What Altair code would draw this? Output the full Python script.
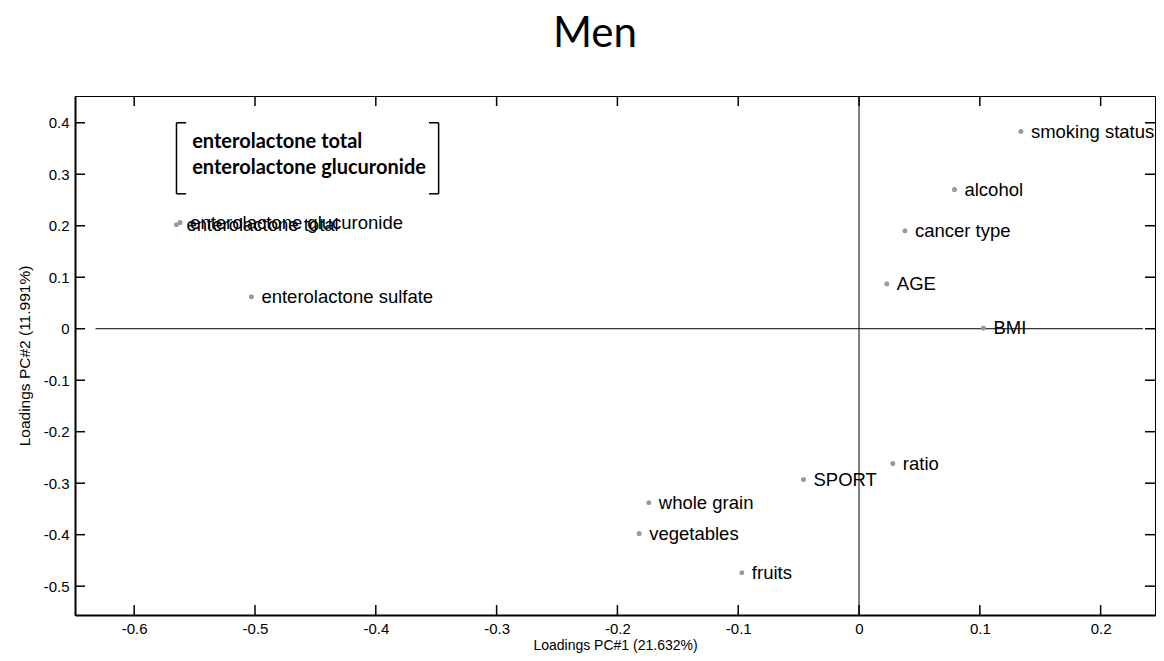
import altair as alt
import pandas as pd

# ---- data ----
labels = ["enterolactone total", "enterolactone glucuronide", "enterolactone sulfate",
          "smoking status", "alcohol", "cancer type", "AGE", "BMI", "ratio",
          "SPORT", "whole grain", "vegetables", "fruits"]
pc1 = [-0.565, -0.562, -0.503, 0.134, 0.079, 0.038, 0.023, 0.103, 0.028,
       -0.046, -0.174, -0.182, -0.097]
pc2 = [0.202, 0.206, 0.062, 0.383, 0.270, 0.190, 0.087, 0.001, -0.262,
       -0.293, -0.338, -0.398, -0.474]

x_ticks = [-0.6, -0.5, -0.4, -0.3, -0.2, -0.1, 0, 0.1, 0.2]
y_ticks = [-0.5, -0.4, -0.3, -0.2, -0.1, 0, 0.1, 0.2, 0.3, 0.4]
x_domain = [-0.649, 0.2450]
y_domain = [-0.556, 0.452]

note_lines = ["enterolactone total", "enterolactone glucuronide"]
note_x = [-0.552, -0.552]
note_y = [0.3515, 0.301]
bracket_x = [-0.565, -0.348]
bracket_y = [0.262, 0.400]
bracket_serif = 0.008
zero_line_x = [-0.632, 0.235]

W, H = 1080, 519
TICK = 10

xs = alt.Scale(domain=x_domain, nice=False, zero=False)
ys = alt.Scale(domain=y_domain, nice=False, zero=False)
lab_expr = "toString(datum.value)"
AX = alt.Axis(values=x_ticks, title="Loadings PC#1 (21.632%)", labelExpr=lab_expr,
              ticks=False, tickSize=0, labelPadding=6, titlePadding=2, grid=False,
              labelFontSize=15, titleFontSize=14,
              domainColor="black", domainWidth=2)
AY = alt.Axis(values=y_ticks, title="Loadings PC#2 (11.991%)", labelExpr=lab_expr,
              ticks=False, tickSize=0, labelPadding=6, titlePadding=11, grid=False,
              labelFontSize=15, titleFontSize=15.5,
              domainColor="black", domainWidth=2)


def X(f="x"):
    return alt.X(f"{f}:Q", scale=xs, axis=AX)


def Y(f="y"):
    return alt.Y(f"{f}:Q", scale=ys, axis=AY)


pts = pd.DataFrame({"x": pc1, "y": pc2, "label": labels})
xt = pd.DataFrame({"x": x_ticks})
yt = pd.DataFrame({"y": y_ticks})

points = alt.Chart(pts).mark_circle(size=22, color="#999999", opacity=1).encode(x=X(), y=Y())

text = alt.Chart(pts).mark_text(
    align="left", baseline="middle", dx=10, font="Liberation Sans",
    fontSize=18.5, color="black"
).encode(x=X(), y=Y(), text="label:N")

hzero = alt.Chart(pd.DataFrame({"x": [zero_line_x[0]], "x2": [zero_line_x[1]], "y": [0]})).mark_rule(
    color="black", strokeWidth=1
).encode(x=X(), x2="x2:Q", y=Y())

vzero = alt.Chart(pd.DataFrame({"x": [0]})).mark_rule(color="black", strokeWidth=1).encode(
    x=X(), y=alt.value(0), y2=alt.value(H))

tick_bot = alt.Chart(xt).mark_rule(color="black", strokeWidth=1.5).encode(
    x=X(), y=alt.value(H), y2=alt.value(H - TICK))
tick_top = alt.Chart(xt).mark_rule(color="black", strokeWidth=1.5).encode(
    x=X(), y=alt.value(0), y2=alt.value(TICK))
tick_left = alt.Chart(yt).mark_rule(color="black", strokeWidth=1.5).encode(
    y=Y(), x=alt.value(0), x2=alt.value(TICK))
tick_right = alt.Chart(yt).mark_rule(color="black", strokeWidth=1.5).encode(
    y=Y(), x=alt.value(W), x2=alt.value(W - TICK))

# bracket annotation
bv = pd.DataFrame({"x": bracket_x, "y": [bracket_y[0]] * 2, "y2": [bracket_y[1]] * 2})
bracket_v = alt.Chart(bv).mark_rule(color="black", strokeWidth=1.5).encode(
    x=X(), y=Y(), y2="y2:Q")
bh = pd.DataFrame({
    "x": [bracket_x[0], bracket_x[0], bracket_x[1] - bracket_serif, bracket_x[1] - bracket_serif],
    "x2": [bracket_x[0] + bracket_serif, bracket_x[0] + bracket_serif, bracket_x[1], bracket_x[1]],
    "y": [bracket_y[0], bracket_y[1], bracket_y[0], bracket_y[1]],
})
bracket_h = alt.Chart(bh).mark_rule(color="black", strokeWidth=1.5).encode(
    x=X(), x2="x2:Q", y=Y())

note = alt.Chart(pd.DataFrame({"x": note_x, "y": note_y, "t": note_lines})).mark_text(
    align="left", baseline="alphabetic", font="Lato", fontWeight="bold", fontSize=20, color="black"
).encode(x=X(), y=Y(), text="t:N")

chart = alt.layer(
    points, hzero, vzero, tick_bot, tick_top, tick_left, tick_right,
    bracket_v, bracket_h, note, text, points
).properties(
    width=W, height=H,
    autosize="none",
    padding={"left": 67, "top": 88, "right": 1, "bottom": 38},
    title=alt.TitleParams("Men", font="Lato", fontSize=42, fontWeight="normal",
                          color="black", anchor="middle", offset=39, dx=-20),
).configure_view(
    stroke="black", strokeWidth=1
).configure_axis(
    labelFont="Liberation Sans", labelColor="black",
    titleFont="Liberation Sans", titleFontWeight="normal",
    titleColor="black",
)

chart.save("out.html", embed_options={"renderer": "svg", "actions": False})
